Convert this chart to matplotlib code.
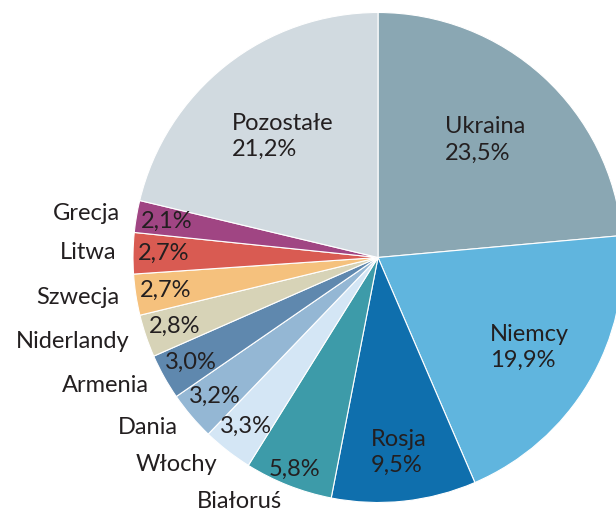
import matplotlib.pyplot as plt
import numpy as np

countries = ["Ukraina", "Niemcy", "Rosja", "Białoruś", "Włochy", "Dania",
             "Armenia", "Niderlandy", "Szwecja", "Litwa", "Grecja", "Pozostałe"]
shares = [23.5, 19.9, 9.5, 5.8, 3.3, 3.2, 3.0, 2.8, 2.7, 2.7, 2.1, 21.2]
colors = ["#8aa7b3", "#60b5de", "#0f6fad", "#3d9ba9", "#d4e6f5", "#94b7d4",
          "#5f88ae", "#d7d3b7", "#f5c17d", "#d95b52", "#a04583", "#d1dae0"]

# big slices get name + value inside, the rest get value inside and name outside
inside_names = {"Ukraina", "Niemcy", "Rosja", "Pozostałe"}
big_radius = {"Ukraina": 0.65, "Niemcy": 0.72, "Rosja": 0.80, "Pozostałe": 0.63}

plt.rcParams['font.family'] = ['Lato', 'DejaVu Sans']
TXT = "#231f20"
FS = 17

fig = plt.figure(figsize=(6.16, 5.15), dpi=100)
ax = fig.add_axes([0, 0, 1, 1])

wedges, _ = ax.pie(shares, colors=colors, startangle=90, counterclock=False,
                   radius=1.0, wedgeprops=dict(edgecolor="white", linewidth=0.8))

scale = 245.0
ax.set_xlim(-378 / scale, (616 - 378) / scale)
ax.set_ylim(-257.5 / scale, 257.5 / scale)
ax.set_aspect("equal")
ax.axis("off")

def fmt(v):
    return f"{v:.1f}".replace(".", ",") + "%"

for w, name, v in zip(wedges, countries, shares):
    mid = np.deg2rad((w.theta1 + w.theta2) / 2)
    c, s = np.cos(mid), np.sin(mid)
    if name in inside_names:
        r = big_radius[name]
        ax.text(r * c, r * s, f"{name}\n{fmt(v)}", ha="center", va="center",
                multialignment="left", fontsize=FS, color=TXT, linespacing=1.3)
    else:
        r = 0.93 if name == "Białoruś" else 0.875
        ax.text(r * c, r * s, fmt(v), ha="center", va="center",
                fontsize=FS, color=TXT)
        ax.text(1.07 * c, 1.07 * s, name, ha="right", va="center",
                fontsize=FS, color=TXT)

fig.savefig("out.png", dpi=100)
